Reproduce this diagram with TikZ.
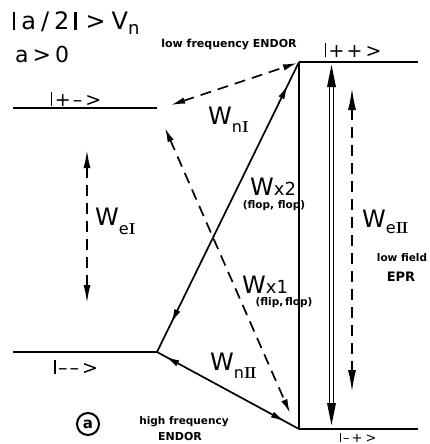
\documentclass[tikz,border=0pt]{standalone}
\usepackage{fontspec}
\setsansfont{DejaVu Sans}
\usetikzlibrary{arrows.meta,decorations.markings}
\newcommand{\kb}{\rule[0pt]{0.09em}{0.73em}}
\newcommand{\fs}[1]{\fontsize{#1}{#1}\selectfont}
\newcommand{\rI}{{\rmfamily\bfseries I}}
\newcommand{\rII}{{\rmfamily\bfseries I\kern-0.05em I}}
\newcommand{\ketx}[2]{\kb\hspace{2.5pt}#1\hspace{2pt}#2\hspace{3pt}>}
\begin{document}
\begin{tikzpicture}[x=1pt,y=-1pt,
  level/.style={line width=2.8pt},
  sol/.style={line width=1.7pt},
  dsh/.style={line width=1.7pt,dash pattern=on 11pt off 7pt},
  tipA/.style={{Latex[length=14pt,width=6.5pt]}-{Latex[length=14pt,width=6.5pt]}},
  tipB/.style={{Latex[length=22pt,width=8pt]}-{Latex[length=22pt,width=8pt]}},
  midarr/.style 2 args={postaction={decorate},decoration={markings,
     mark=at position #1 with {\arrowreversed{Latex[length=14pt,width=6.5pt]}},
     mark=at position #2 with {\arrow{Latex[length=14pt,width=6.5pt]}}}},
  lab/.style={font=\sffamily\fs{24},inner sep=0pt},
  ket/.style={font=\sffamily\fs{19},inner sep=0pt},
  sm/.style={font=\sffamily\bfseries\fs{11},inner sep=0pt,align=center}
]
\useasboundingbox (0,0) rectangle (430,444);
% level coordinates
\coordinate (pmL) at (13,108);  \coordinate (pmR) at (157,108);
\coordinate (ppL) at (299,62);  \coordinate (ppR) at (418,62);
\coordinate (mmL) at (13,352);  \coordinate (mmR) at (157,352);
\coordinate (mpL) at (299,429); \coordinate (mpR) at (418,429);
% levels
\draw[level] (pmL) -- (pmR);
\draw[level] (mmL) -- (mmR);
\draw[level] (ppR) -- (ppL);
\draw[level] (mpL) -- (mpR);
\draw[sol] (ppL) -- (mpL);
% W_x2 and W_nII (solid, arrows inside the lines)
\draw[sol,midarr={0.10}{0.92}] (mmR) -- (ppL);
\draw[sol,midarr={0.06}{0.90}] (mmR) -- (mpL);
% W_nI dashed
\coordinate (nIa) at (171,105); \coordinate (nIb) at (297,63);
\draw[dsh,tipA] (nIa) -- (nIb);
% W_x1 dashed
\coordinate (x1a) at (165,128); \coordinate (x1b) at (290,413);
\draw[dsh,tipA] (x1a) -- (x1b);
% W_eI dashed
\coordinate (eIa) at (87,150); \coordinate (eIb) at (87,303);
\draw[dsh,{Latex[length=18pt,width=7pt]}-{Latex[length=18pt,width=7pt]}] (eIa) -- (eIb);
% W_eII dashed
\coordinate (eIIa) at (352,88); \coordinate (eIIb) at (352,392);
\draw[dsh,tipB] (eIIa) -- (eIIb);
% W_eII double solid
\coordinate (dA) at (331.5,65); \coordinate (dB) at (331.5,425);
\draw[line width=1.3pt,double,double distance=2.6pt,shorten <=18pt,shorten >=18pt] (dA) -- (dB);
\fill (dA) -- ++(-4.5,22) -- ++(9,0) -- cycle;
\fill (dB) -- ++(-4.5,-22) -- ++(9,0) -- cycle;
% texts
\node[lab,anchor=base west] (cond) at (13,30) {\kb\hspace{6pt}a\hspace{5pt}/\hspace{5pt}2\hspace{5pt}\kb\hspace{9pt}>\hspace{6pt}V\raisebox{-5pt}{\fs{18}n}};
\node[lab,anchor=base west,font=\sffamily\fs{22}] (apos) at (15,63) {a\hspace{4pt}>\hspace{4pt}0};
\node[sm] (lfE) at (229,45) {low frequency ENDOR};
\node[ket,anchor=base] (kpp) at (353,57) {\ketx{+}{+}};
\node[ket,anchor=base] (kpm) at (76,106) {\ketx{+}{\textendash}};
\node[ket,anchor=base] (kmm) at (76,374) {\ketx{\textendash}{\textendash}};
\node[ket,anchor=base,font=\sffamily\fs{13}] (kmp) at (358,442.3) {\ketx{\textendash}{+}};
\node[lab,anchor=base west] (WnI) at (208,124) {W\raisebox{-8pt}{\fs{16}n\rI}};
\node[lab,anchor=base west] (Wx2) at (250,195) {W{\fs{18}x2}};
\node[sm,font=\sffamily\bfseries\fs{10.5}] (flop) at (274,206) {(flop, flop)};
\node[lab,anchor=base west] (WeI) at (95,225) {W\raisebox{-9pt}{\fs{16}e\rI}};
\node[lab,anchor=base west] (WeII) at (362,227) {W\raisebox{-6pt}{\fs{16}e\rII}};
\node[sm,font=\sffamily\bfseries\fs{10.5}] (lfield) at (402,258) {low field};
\node[sm,font=\sffamily\bfseries\fs{13}] (epr) at (401,277) {EPR};
\node[lab,anchor=base west] (Wx1) at (242,293) {W{\fs{18}x1}};
\node[sm,font=\sffamily\bfseries\fs{10.5}] (flip) at (284,303) {(flip,\,flop)};
\node[lab,anchor=base west] (WnII) at (210,370) {W\raisebox{-8pt}{\fs{16}n\rII}};
\node[circle,draw,line width=2pt,minimum size=22pt,inner sep=0pt,font=\sffamily\bfseries\fs{15}] (circa) at (88,424) {a};
\node[sm,font=\sffamily\bfseries\fs{10.5}] (hf) at (184,422) {high frequency};
\node[sm] (hfE) at (180,436) {ENDOR};
\end{tikzpicture}
\end{document}
